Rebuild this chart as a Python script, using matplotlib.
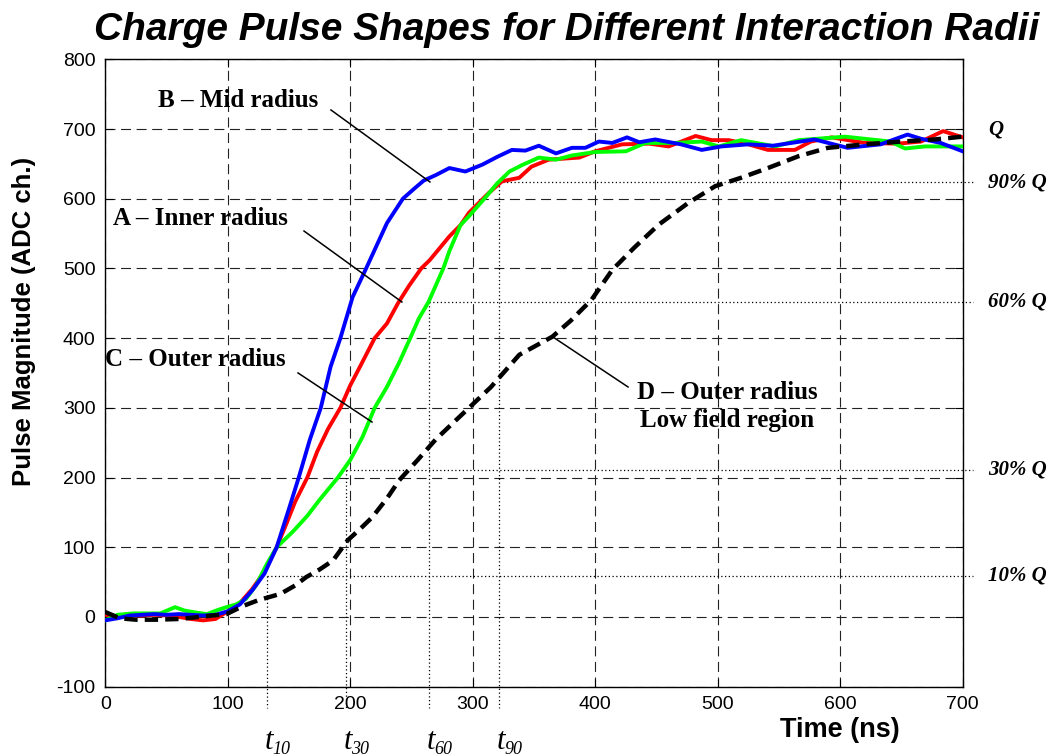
import matplotlib
matplotlib.use("Agg")
import matplotlib.pyplot as plt

plt.rcParams['axes.unicode_minus'] = False
plt.rcParams['font.family'] = ['Liberation Sans', 'DejaVu Sans']

# ---- data ----
b_x = [0, 10, 20, 30, 40, 50, 60, 70, 80, 90, 100, 110, 120, 130, 140, 150, 158, 167, 176, 184, 192,
       202, 213, 230, 243, 252, 260, 270, 281, 294, 308, 320, 332, 343, 354, 368, 381, 392, 403,
       414, 426, 436, 449, 470, 487, 503, 525, 545, 560, 579, 606, 633, 655, 666, 682, 700]
b_y = [-5, -2, 2, 3, 4, 3, 4, 3, 2, 3, 8, 18, 38, 62, 100, 155, 200, 254, 300, 359, 400,
       459, 500, 565, 600, 614, 626, 634, 644, 639, 649, 660, 670, 669, 676, 665, 673, 673, 682,
       680, 688, 681, 685, 678, 670, 675, 678, 676, 680, 685, 673, 678, 692, 686, 680, 668]

a_x = [0, 10, 20, 30, 40, 50, 60, 70, 80, 90, 100, 110, 120, 130, 140, 148, 155, 165, 173, 182, 192, 200,
       208, 220, 230, 239, 248, 258, 265, 281, 290, 297, 313, 324, 338, 348, 362, 387, 400, 422, 444, 460,
       482, 495, 509, 525, 541, 563, 576, 593, 620, 647, 666, 684, 700]
a_y = [3, 0, 2, 2, 3, 2, 0, -3, -5, -3, 8, 20, 40, 65, 100, 134, 165, 200, 237, 270, 300, 332,
       359, 400, 421, 450, 475, 500, 512, 546, 562, 580, 608, 625, 630, 646, 656, 659, 668, 678, 679, 675,
       690, 684, 684, 678, 670, 670, 682, 688, 680, 679, 682, 697, 688]

c_x = [0, 10, 23, 35, 45, 57, 65, 75, 83, 92, 99, 107, 115, 123, 132, 140, 153, 165, 175, 190, 200, 210,
       220, 230, 240, 249, 256, 264, 276, 281, 290, 297, 311, 320, 330, 340, 354, 368, 381, 400, 425, 441,
       465, 487, 501, 519, 547, 566, 604, 641, 653, 669, 700]
c_y = [-5, 3, 5, 5, 5, 14, 9, 6, 4, 10, 14, 18, 26, 45, 76, 100, 122, 145, 168, 200, 225, 258,
       300, 330, 365, 400, 428, 452, 500, 525, 562, 575, 603, 622, 639, 648, 659, 656, 662, 667, 668, 680,
       680, 682, 675, 684, 675, 684, 689, 682, 672, 675, 675]

d_x = [0, 12, 25, 42, 60, 77, 99, 113, 125, 143, 155, 164, 175, 186, 198, 208, 218, 230, 240, 255, 270,
       285, 297, 315, 338, 365, 380, 397, 414, 432, 452, 476, 498, 519, 541, 566, 590, 620, 650, 677, 700]
d_y = [7, -2, -4, -4, -3, 0, 4, 16, 24, 33, 45, 57, 68, 81, 110, 126, 143, 170, 196, 225, 255,
       280, 300, 330, 376, 402, 425, 455, 498, 530, 563, 594, 618, 630, 644, 661, 673, 678, 682, 685, 689]

levels = [59, 211, 452, 623.5]
level_labels = ['10% Q', '30% Q', '60% Q', '90% Q']
t_times = [132.3, 196.3, 264.3, 321.5]
t_subs = ['10', '30', '60', '90']
q_level = 700

fig = plt.figure(figsize=(10.54, 7.56), dpi=100)
ax = fig.add_axes([105.2 / 1054, 1 - 686.6 / 756, (962.7 - 105.2) / 1054, (686.6 - 59.3) / 756])
ax.set_xlim(0, 700)
ax.set_ylim(-100, 800)
ax.set_xticks(range(0, 701, 100))
ax.set_yticks(range(-100, 801, 100))
ax.tick_params(direction='in', length=6, width=0.8, top=True, right=True, labelsize=14, pad=7)
ax.grid(True, color='#222222', linestyle=(0, (9, 5)), linewidth=0.8)
for s in ax.spines.values():
    s.set_linewidth(1.0)

serif = ['Liberation Serif', 'DejaVu Serif']

# dotted level lines
for t, lv in zip(t_times, levels):
    ax.plot([t, 708], [lv, lv], color='black', linestyle=(0, (1, 2)), linewidth=0.9, clip_on=False, zorder=2)
    ax.plot([t, t], [lv, -131], color='black', linestyle=(0, (1, 2)), linewidth=0.9, clip_on=False, zorder=2)

ax.plot(a_x, a_y, color='#ff0000', linewidth=2.8, zorder=3)
ax.plot(c_x, c_y, color='#00ff00', linewidth=2.8, zorder=3)
ax.plot(b_x, b_y, color='#0000ff', linewidth=2.8, zorder=4)
ax.plot(d_x, d_y, color='black', linewidth=3.2, linestyle=(0, (3, 1.6)), zorder=5)

# annotations
ann = dict(fontsize=18, fontweight='bold', family=serif)
ax.text(43, 741.6, 'B – Mid radius', ha='left', va='center', **ann)
ax.plot([184.3, 265.1], [727.3, 624], color='black', linewidth=1.1, zorder=6)
ax.text(6.4, 570.9, 'A – Inner radius', ha='left', va='center', **ann)
ax.plot([162.3, 242.2], [553.6, 451.8], color='black', linewidth=1.1, zorder=6)
ax.text(0, 370, 'C – Outer radius', ha='left', va='center', **ann)
ax.plot([157.4, 217.8], [350, 279.6], color='black', linewidth=1.1, zorder=6)
ax.text(507.6, 302, 'D – Outer radius\nLow field region', ha='center', va='center',
        linespacing=1.25, **ann)
ax.plot([365.5, 426.8], [401.6, 329.9], color='black', linewidth=1.1, zorder=6)

# right-side labels
rl = dict(fontsize=15, fontweight='bold', fontstyle='italic', family=serif, ha='left', va='center',
          clip_on=False)
ax.text(720.6, q_level, 'Q', **rl)
for lv, lab in zip(levels, level_labels):
    ax.text(720.6, lv, lab, **rl)

# t labels
for t, sub in zip(t_times, t_subs):
    ax.text(t - 2, -189.5, 't', fontsize=22, fontstyle='italic', family=serif, ha='left',
            va='baseline', clip_on=False)
    ax.text(t + 4.5, -196.5, sub, fontsize=13, fontstyle='italic', family=serif, ha='left',
            va='baseline', clip_on=False)

fig.text(567 / 1054, 1 - 30 / 756, 'Charge Pulse Shapes for Different Interaction Radii',
         fontsize=28, fontweight='bold', fontstyle='italic', ha='center', va='center')
fig.text(24 / 1054, 1 - 321 / 756, 'Pulse Magnitude (ADC ch.)', fontsize=18.5, fontweight='bold',
         rotation=90, ha='center', va='center')
fig.text(840 / 1054, 1 - 730 / 756, 'Time (ns)', fontsize=19.5, fontweight='bold',
         ha='center', va='center')

fig.savefig('out.png', dpi=100)
